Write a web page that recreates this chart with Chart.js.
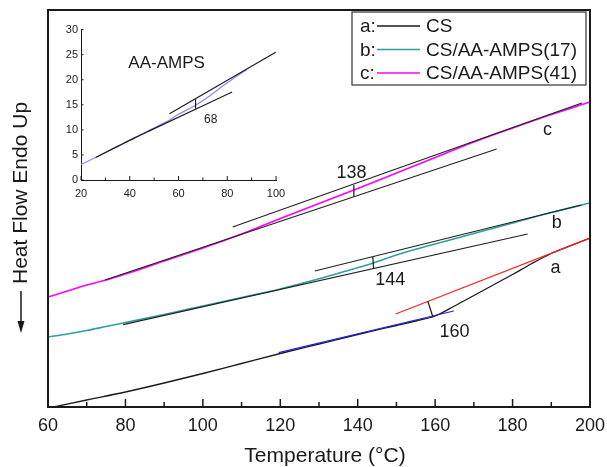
<!DOCTYPE html>
<html lang="en">
<head>
<meta charset="UTF-8">
<title>DSC curves</title>
<script src="https://cdn.jsdelivr.net/npm/chart.js"></script>
<style>
  body { margin: 0; background: #fff; }
  #wrap { position: relative; width: 607px; height: 467px; }
  #main { position: absolute; left: 0; top: 0; }
  #inset { position: absolute; left: 40px; top: 20px; }
</style>
</head>
<body>
<div id="wrap">
  <canvas id="main" width="607" height="467"></canvas>
  <canvas id="inset" width="250" height="190"></canvas>
</div>
<script>
// main plot: temperature (°C) vs heat flow (arbitrary units, axis not labelled)
const tempA = [61.5, 70, 80, 90, 100, 110, 120, 130, 140, 150, 155, 160, 165, 170, 175, 180, 185, 190, 195, 200];
const flowA = [0, 0.7, 1.5, 2.4, 3.35, 4.35, 5.35, 6.3, 7.25, 8.15, 8.6, 9.1, 10.1, 11.15, 12.2, 13.25, 14.35, 15.35, 16.13, 16.9];

const tempB = [60, 65, 70, 75, 80, 90, 100, 110, 120, 125, 130, 135, 140, 144, 150, 160, 170, 180, 190, 200];
const flowB = [7.0, 7.3, 7.65, 8.05, 8.45, 9.25, 10.1, 10.95, 11.8, 12.3, 12.82, 13.38, 13.93, 14.4, 15.2, 16.3, 17.35, 18.4, 19.45, 20.4];

const tempC = [60, 65, 70, 75, 80, 90, 100, 110, 120, 130, 140, 150, 160, 170, 180, 190, 200];
const flowC = [11.0, 11.6, 12.2, 12.7, 13.3, 14.6, 15.9, 17.3, 18.85, 20.35, 21.85, 23.4, 24.95, 26.5, 27.9, 29.25, 30.5];

// tangent constructions [temp, flow]
const tangentA1 = [[119.6, 5.43], [164.8, 9.6]];
const tangentA2 = [[149.8, 9.3], [200, 16.9]];
const tangentB1 = [[79.4, 8.24], [183.9, 17.3]];
const tangentB2 = [[128.9, 13.6], [197.8, 20.2]];
const tangentC1 = [[74.7, 12.7], [175.9, 25.8]];
const tangentC2 = [[107.7, 18.0], [197.9, 30.4]];
const markA = [[158.1, 10.57], [159.4, 9.03]];
const markB = [[143.9, 15.03], [144.1, 13.87]];
const markC = [[139, 22.2], [139, 21.03]];

const seriesKeys = ['a:', 'b:', 'c:'];
const seriesNames = ['CS', 'CS/AA-AMPS(17)', 'CS/AA-AMPS(41)'];
const seriesColors = ['#1a1a1a', '#2f9f9c', '#ff00ff'];

const notes = [['138', 138.4, 23.4], ['144', 148.4, 12.7], ['160', 165.0, 7.5],
               ['a', 191.1, 13.9], ['b', 191.4, 18.4], ['c', 189.0, 27.7]];

// inset: AA-AMPS
const insetTemp = [19.5, 26, 35, 42, 48, 55, 60, 67, 72, 78, 83, 88];
const insetFlow = [3.0, 4.5, 6.7, 8.4, 9.9, 11.6, 13.1, 14.9, 16.5, 18.7, 20.4, 22.0];
const insetFitTemp = [26, 35, 42, 48.7, 82];
const insetFitFlow = [4.5, 6.7, 8.4, 9.95, 17.55];
const insetUpper = [[56.3, 13.2], [99.9, 25.5]];
const insetMark = [[67, 14.2], [67, 16.1]];
const insetNotes = [['AA-AMPS', 55.1, 23.2], ['68', 73.2, 12.1]];

const FONT = 'Arial, "Liberation Sans", Helvetica, sans-serif';
const INK = '#1a1a1a';

function zip(xs, ys) { return xs.map((x, i) => ({x: x, y: ys[i]})); }
function pts(pairs) { return pairs.map(p => ({x: p[0], y: p[1]})); }

function curve(data, color, order, width) {
    return {data: data, borderColor: color, borderWidth: width || 1.4, pointRadius: 0,
            cubicInterpolationMode: 'monotone', order: order};
}
function seg(data, color, order) {
    return {data: data, borderColor: color, borderWidth: 1.2, pointRadius: 0, tension: 0, order: order};
}

const mainDecor = {
    id: 'mainDecor',
    afterDatasetsDraw(chart) {
        const ctx = chart.ctx, a = chart.chartArea, xs = chart.scales.x, ys = chart.scales.y;
        ctx.save();
        // frame
        ctx.strokeStyle = INK;
        ctx.lineWidth = 2;
        ctx.strokeRect(a.left, a.top, a.right - a.left, a.bottom - a.top);
        // inward ticks
        ctx.lineWidth = 1.5;
        for (let t = xs.min; t <= xs.max; t += 10) {
            const px = xs.getPixelForValue(t);
            const len = (t - xs.min) % 20 === 0 ? 8 : 5;
            ctx.beginPath();
            ctx.moveTo(px, a.bottom);
            ctx.lineTo(px, a.bottom - len);
            ctx.stroke();
        }
        // curve labels
        ctx.fillStyle = INK;
        ctx.font = '18px ' + FONT;
        ctx.textAlign = 'center';
        ctx.textBaseline = 'middle';
        notes.forEach(n => ctx.fillText(n[0], xs.getPixelForValue(n[1]), ys.getPixelForValue(n[2])));

        // legend
        const lx = 352, ly = 12, lw = 234, lh = 73;
        ctx.fillStyle = '#fff';
        ctx.fillRect(lx, ly, lw, lh);
        ctx.strokeStyle = '#333';
        ctx.lineWidth = 1.2;
        ctx.strokeRect(lx, ly, lw, lh);
        ctx.font = '19px ' + FONT;
        ctx.textAlign = 'left';
        seriesNames.forEach((name, i) => {
            const y = 26 + i * 23.5;
            ctx.fillStyle = INK;
            ctx.fillText(seriesKeys[i], 360, y + 1);
            ctx.fillText(name, 426, y + 1);
            ctx.strokeStyle = seriesColors[i];
            ctx.lineWidth = 1.4;
            ctx.beginPath();
            ctx.moveTo(377, y);
            ctx.lineTo(420, y);
            ctx.stroke();
        });

        // axis titles
        ctx.fillStyle = INK;
        ctx.font = '21px ' + FONT;
        ctx.textAlign = 'center';
        ctx.fillText('Temperature (°C)', 325, 456);

        ctx.translate(21, 216);
        ctx.rotate(-Math.PI / 2);
        ctx.textAlign = 'left';
        ctx.fillText('Heat Flow Endo Up', -68, 0);
        ctx.strokeStyle = INK;
        ctx.lineWidth = 1.5;
        ctx.beginPath();
        ctx.moveTo(-75, 0);
        ctx.lineTo(-108, 0);
        ctx.stroke();
        ctx.beginPath();
        ctx.moveTo(-117, 0);
        ctx.lineTo(-105, -3.5);
        ctx.lineTo(-105, 3.5);
        ctx.closePath();
        ctx.fill();
        ctx.restore();
    }
};

new Chart(document.getElementById('main'), {
    type: 'line',
    data: {
        datasets: [
            seg(pts(markA), INK, 1),
            seg(pts(markB), INK, 1),
            seg(pts(markC), INK, 1),
            seg(pts(tangentA1), '#2222ee', 2),
            seg(pts(tangentA2), '#ff1f1f', 2),
            seg(pts(tangentB1), '#222', 3),
            seg(pts(tangentB2), '#222', 3),
            seg(pts(tangentC1), '#222', 3),
            seg(pts(tangentC2), '#222', 3),
            curve(zip(tempA, flowA), seriesColors[0], 4, 1.3),
            curve(zip(tempB, flowB), seriesColors[1], 5, 1.6),
            curve(zip(tempC, flowC), seriesColors[2], 5, 1.6)
        ]
    },
    options: {
        responsive: false,
        animation: false,
        devicePixelRatio: 1,
        layout: {padding: {left: 48, top: 10, right: 17, bottom: 0}},
        plugins: {legend: {display: false}, tooltip: {enabled: false}},
        scales: {
            x: {
                type: 'linear', min: 60, max: 200,
                grid: {display: false, drawTicks: false},
                border: {display: false},
                ticks: {stepSize: 20, color: INK, padding: 8, font: {size: 18, family: FONT}},
                afterFit(s) { s.height = 60; s.paddingLeft = 0; s.paddingRight = 0; }
            },
            y: {type: 'linear', min: 0, max: 39.7, display: false}
        }
    },
    plugins: [mainDecor]
});

const insetDecor = {
    id: 'insetDecor',
    afterDatasetsDraw(chart) {
        const ctx = chart.ctx, a = chart.chartArea, xs = chart.scales.x, ys = chart.scales.y;
        ctx.save();
        ctx.strokeStyle = INK;
        ctx.lineWidth = 1;
        for (let t = xs.min; t <= xs.max; t += 10) {
            const px = xs.getPixelForValue(t);
            const len = (t - xs.min) % 20 === 0 ? 4 : 2.5;
            ctx.beginPath();
            ctx.moveTo(px, a.bottom);
            ctx.lineTo(px, a.bottom - len);
            ctx.stroke();
        }
        for (let v = ys.min; v <= ys.max; v += 5) {
            const py = ys.getPixelForValue(v);
            ctx.beginPath();
            ctx.moveTo(a.left, py);
            ctx.lineTo(a.left + 2.5, py);
            ctx.stroke();
        }
        ctx.fillStyle = INK;
        ctx.textAlign = 'center';
        ctx.textBaseline = 'middle';
        ctx.font = '17px ' + FONT;
        ctx.fillText(insetNotes[0][0], xs.getPixelForValue(insetNotes[0][1]), ys.getPixelForValue(insetNotes[0][2]));
        ctx.font = '12px ' + FONT;
        ctx.fillText(insetNotes[1][0], xs.getPixelForValue(insetNotes[1][1]), ys.getPixelForValue(insetNotes[1][2]));
        ctx.restore();
    }
};

new Chart(document.getElementById('inset'), {
    type: 'line',
    data: {
        datasets: [
            seg(pts(insetMark), INK, 1),
            seg(pts(insetUpper), INK, 1),
            curve(zip(insetFitTemp, insetFitFlow), INK, 2, 1.2),
            curve(zip(insetTemp, insetFlow), '#8888ff', 3, 1.2)
        ]
    },
    options: {
        responsive: false,
        animation: false,
        devicePixelRatio: 1,
        layout: {padding: {left: 0, top: 9, right: 14, bottom: 0}},
        plugins: {legend: {display: false}, tooltip: {enabled: false}},
        scales: {
            x: {
                type: 'linear', min: 20, max: 100,
                grid: {display: false, drawTicks: false},
                border: {display: true, color: INK, width: 1},
                ticks: {stepSize: 20, color: INK, padding: 7, font: {size: 11, family: FONT}},
                afterFit(s) { s.height = 30; s.paddingLeft = 0; s.paddingRight = 0; }
            },
            y: {
                type: 'linear', min: 0, max: 30,
                grid: {display: false, drawTicks: false},
                border: {display: true, color: INK, width: 1},
                ticks: {stepSize: 5, color: INK, padding: 3, font: {size: 11, family: FONT}},
                afterFit(s) { s.width = 41; }
            }
        }
    },
    plugins: [insetDecor]
});
</script>
</body>
</html>
